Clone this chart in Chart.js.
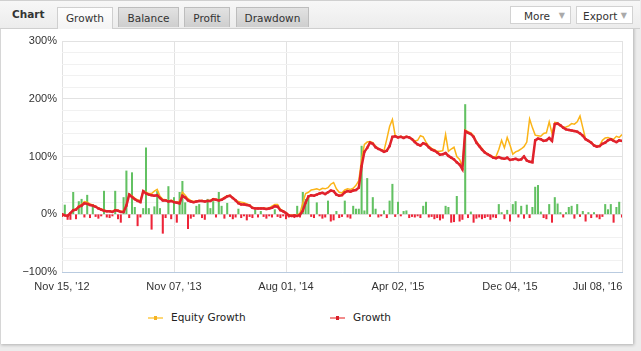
<!DOCTYPE html>
<html lang="en">
<head>
    <meta charset="UTF-8">
    <title>Chart</title>
    <script src="https://cdn.jsdelivr.net/npm/chart.js"></script>
    <style>
        body { margin: 0; background: #ececec; font-family: "DejaVu Sans", sans-serif; }
        .panel { position: absolute; left: 0; top: 0; width: 632px; height: 344px; background: #fff;
                 border-left: 1px solid #d6d6d6; box-shadow: 1px 1px 3px rgba(0,0,0,0.25); }
        .head { position: absolute; left: 0; top: 0; width: 640px; height: 27px;
                background: linear-gradient(#f7f7f7, #ececec); border-top: 1px solid #d0d0d0; border-bottom: 1px solid #cfcfcf; }
        .title { position: absolute; left: 12px; top: 7px; font-weight: bold; font-size: 10.5px; color: #333; }
        .tab { position: absolute; top: 6px; height: 20px; line-height: 21px; text-align: center; font-size: 10.5px; color: #333;
               background: linear-gradient(#e2e2e2, #cecece); border: 1px solid #bdbdbd; border-bottom: none; box-sizing: border-box; }
        .tab.active { background: linear-gradient(#fdfdfd, #f4f4f4); height: 22px; border-color: #cfcfcf; }
        .btn { position: absolute; top: 5px; height: 18px; line-height: 18px; font-size: 10.5px; color: #333; background: #fff;
               border: 1px solid #d2d2d2; box-sizing: border-box; padding-left: 12px; }
        .btn span { position: absolute; right: 5px; top: 0; color: #aaa; font-size: 8px; }
        #wrap { position: absolute; left: 0; top: 28px; width: 632px; height: 272px; }
        .legend { position: absolute; top: 311px; font-size: 10.5px; color: #222; }
        .key { position: absolute; top: 6px; width: 15px; height: 2px; }
        .key i { position: absolute; left: 6px; top: -1px; width: 3px; height: 4px; }
    </style>
</head>
<body>
    <div class="panel"></div>
    <div class="head">
        <div class="title">Chart</div>
        <div class="tab active" style="left:57px;width:56px">Growth</div>
        <div class="tab" style="left:118px;width:61px">Balance</div>
        <div class="tab" style="left:184px;width:46px">Profit</div>
        <div class="tab" style="left:236px;width:73px">Drawdown</div>
        <div class="btn" style="left:510px;width:61px;padding-left:13px">More<span>&#9660;</span></div>
        <div class="btn" style="left:576px;width:57px;padding-left:6px">Export<span>&#9660;</span></div>
    </div>
    <div id="wrap"><canvas id="growthChart" width="632" height="272"></canvas></div>
    <div class="legend" style="left:148px">
        <div class="key" style="background:#fdd777"><i style="background:#f5b323"></i></div>
        <span style="margin-left:23px">Equity Growth</span>
    </div>
    <div class="legend" style="left:330px">
        <div class="key" style="background:#f28b8b"><i style="background:#d9202a"></i></div>
        <span style="margin-left:23px">Growth</span>
    </div>
    <script>
    // x ticks (trade index positions 0, 40, ... 200)
    const tickLabels = ["Nov 15, '12", "Nov 07, '13", "Aug 01, '14", "Apr 02, '15", "Dec 04, '15", "Jul 08, '16"];

    // Growth, %
    const growth = [
        0, -2, -3, 2, 7, 8, 13, 15, 19, 18,
        16, 15, 13, 10, 8, 6, 5, 5, 4, 7,
        6, 4, 4, 15, 34, 30, 26, 23, 21, 40,
        36, 34, 33, 32, 33, 28, 24, 24, 22, 23,
        21, 20, 19, 32, 29, 24, 22, 21, 22, 23,
        23, 22, 23, 23, 26, 25, 24, 25, 28, 31,
        32, 28, 24, 19, 17, 17, 16, 15, 11, 10,
        10, 10, 10, 9, 10, 11, 14, 13, 7, 5,
        2, -2, -3, -2, -3, -1, 6, 20, 31, 33,
        32, 34, 36, 37, 35, 38, 41, 40, 34, 32,
        33, 38, 40, 39, 41, 42, 46, 83, 108, 115,
        124, 122, 116, 113, 111, 108, 110, 118, 134, 135,
        133, 134, 132, 134, 133, 130, 125, 121, 119, 123,
        121, 116, 112, 110, 107, 103, 104, 106, 101, 98,
        95, 90, 86, 78, 144, 141, 139, 134, 124, 118,
        112, 107, 104, 101, 98, 97, 99, 97, 96, 98,
        94, 95, 96, 94, 95, 100, 93, 91, 90, 128,
        131, 130, 127, 128, 132, 127, 156, 157, 154, 150,
        147, 146, 145, 144, 143, 140, 136, 130, 127, 124,
        119, 117, 118, 122, 124, 128, 130, 127, 125, 128,
        127
    ];

    // Equity Growth, %
    const equityGrowth = [
        0, -2, -3, 2, 7, 9, 14, 17, 22, 21,
        18, 16, 14, 11, 9, 7, 6, 6, 5, 8,
        7, 5, 5, 16, 35, 32, 28, 25, 23, 41,
        38, 36, 36, 40, 43, 31, 26, 25, 23, 24,
        22, 21, 22, 38, 33, 27, 24, 22, 23, 24,
        24, 23, 24, 24, 27, 26, 25, 26, 29, 32,
        33, 29, 25, 22, 21, 20, 18, 16, 12, 11,
        11, 11, 11, 10, 11, 14, 17, 17, 9, 6,
        3, -1, -2, -1, -2, 2, 20, 36, 38, 42,
        43, 44, 42, 45, 44, 46, 52, 55, 44, 38,
        37, 42, 44, 43, 45, 50, 58, 95, 121, 125,
        126, 124, 118, 114, 112, 110, 130, 152, 164, 136,
        134, 135, 133, 135, 134, 131, 127, 128, 136, 134,
        125, 118, 114, 112, 109, 109, 110, 138, 109, 113,
        116, 100, 95, 83, 146, 143, 141, 136, 126, 120,
        114, 108, 105, 102, 99, 100, 112, 128, 115, 133,
        120, 104, 108, 110, 113, 117, 125, 165, 150, 137,
        136, 135, 140, 141, 160, 140, 159, 158, 155, 150,
        151, 153, 157, 156, 160, 170, 150, 130, 128, 125,
        120, 118, 119, 128, 132, 133, 131, 130, 135, 133,
        138
    ];

    // single trade result, %
    const tradeResult = [
        -4, 16, -9, -9, 38, -8, 22, 26, -5, 33,
        -6, 17, -4, -7, -3, 40, -5, -6, -3, 40,
        -8, -14, 29, 75, -6, 72, 12, -20, -5, 10,
        115, 10, -26, 13, 40, 10, -33, -6, 48, -8,
        29, -14, 38, 57, 20, -25, -7, -4, 14, 17,
        -6, -9, 26, 10, 22, -5, 38, 14, -7, 19,
        -4, -8, -5, 9, -6, -3, -10, -4, -6, 7,
        -5, 5, -4, -7, -3, -5, 8, -4, -6, -3,
        -8, -5, -4, -6, 14, -5, 38, 26, 31, -4,
        -6, 20, -3, -7, -5, 23, -12, -10, 5, -6,
        -4, 23, -5, -7, 14, 9, 9, 118, 6, 62,
        -4, 29, 9, -5, -3, 6, -6, 23, 52, -4,
        21, -3, 5, 6, -6, -4, -5, -3, -6, 14,
        21, -5, -4, -8, -6, -10, -7, 14, 12, -14,
        -13, 31, -12, -9, 190, -6, 4, -14, -7, -5,
        -8, -6, -4, -9, -5, -6, 17, 3, -8, 7,
        -12, 17, 22, -5, 14, -7, 16, -6, 12, 47,
        50, 4, -6, -8, 17, -14, 29, 18, 3, -5,
        3, 12, 14, -7, 17, -4, 5, -12, 3, -6,
        3, -5, -8, -4, 17, 8, 17, -14, 12, 21,
        -5
    ];

    const ctx = document.getElementById('growthChart').getContext('2d');
    const growthChart = new Chart(ctx, {
        type: 'line',
        data: {
            labels: growth.map((v, i) => i),
            datasets: [
                {
                    label: 'Growth',
                    data: growth,
                    borderColor: '#e0222c',
                    borderWidth: 2.5,
                    pointRadius: 1.6,
                    pointStyle: 'rect',
                    pointBackgroundColor: '#e0222c',
                    pointBorderWidth: 0,
                    order: 0
                },
                {
                    label: 'Equity Growth',
                    data: equityGrowth,
                    borderColor: '#fbb418',
                    borderWidth: 1.5,
                    pointRadius: 0,
                    order: 1
                },
                {
                    type: 'bar',
                    label: 'Trade',
                    data: tradeResult,
                    backgroundColor: tradeResult.map(v => v >= 0 ? '#62c162' : '#ee2438'),
                    barThickness: 1.4,
                    order: 2
                }
            ]
        },
        options: {
            responsive: false,
            animation: false,
            layout: { padding: { top: 13, right: 10, left: 0, bottom: 0 } },
            plugins: {
                legend: { display: false },
                tooltip: { enabled: false }
            },
            scales: {
                x: {
                    type: 'linear',
                    min: 0,
                    max: 200,
                    offset: false,
                    grid: { color: '#e2e2e2', drawTicks: false, offset: false },
                    border: { color: '#b9cbe0' },
                    ticks: {
                        stepSize: 40,
                        padding: 8,
                        maxRotation: 0,
                        color: '#333',
                        font: { family: 'Liberation Sans', size: 11 },
                        callback: function(value) {
                            const label = tickLabels[value / 40];
                            // last label is pushed left so it ends at the plot edge
                            return value === 200 ? label + '\u2007\u2007\u2007\u2007\u2007\u2007\u2007\u2007' : label;
                        }
                    },
                    afterFit: function(scale) {
                        scale.height = 28;
                        scale.paddingLeft = 0;
                        scale.paddingRight = 0;
                    }
                },
                y: {
                    min: -100,
                    max: 300,
                    grid: {
                        drawTicks: false,
                        color: function(c) { return c.tick && c.tick.value % 100 === 0 ? '#e2e2e2' : '#f1f1f1'; }
                    },
                    border: { display: false },
                    ticks: {
                        stepSize: 20,
                        padding: 5,
                        autoSkip: false,
                        color: '#333',
                        font: { family: 'Liberation Sans', size: 11 },
                        callback: function(value) {
                            if (value % 100 !== 0) return '';
                            return (value < 0 ? '\u2212' + Math.abs(value) : value) + '%';
                        }
                    },
                    afterFit: function(scale) { scale.width = 62; }
                }
            }
        }
    });
    </script>
</body>
</html>
